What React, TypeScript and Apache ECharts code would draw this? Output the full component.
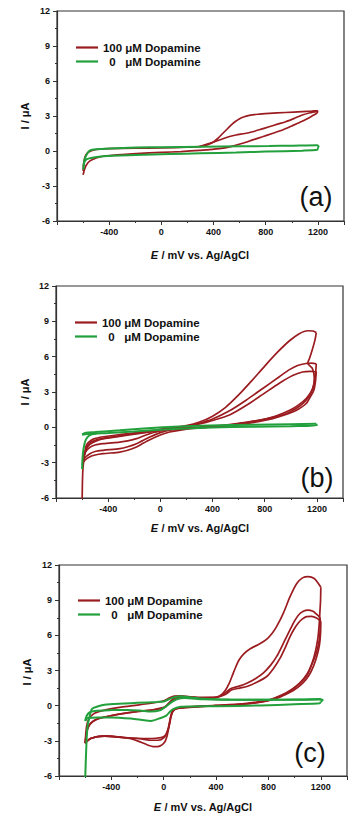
import React, { useEffect, useRef } from 'react';
import * as echarts from 'echarts';

const RED = '#9b1c20';
const GREEN = '#21a03c';
const NAME_RED = '100 μM Dopamine';
const NAME_GREEN = '0 μM Dopamine';
const PANEL_LABELS = ['(a)', '(b)', '(c)'];
const X_MIN = -800;
const X_MAX = 1400;
const X_STEP = 400;
const Y_MIN = -6;
const Y_MAX = 12;
const Y_STEP = 3;

// ---------- panel (a) ----------
const aRedFwd = [[-600,-2.05],[-590,-1.6],[-575,-1.2],[-547,-0.85],[-500,-0.6],[-445,-0.45],[-300,-0.3],[-191,-0.22],[0,-0.12],[150,-0.05],[292,0.05],[445,0.2],[540,0.4],[623,0.66],[700,0.95],[775,1.22],[850,1.5],[928,1.8],[1000,2.15],[1080,2.55],[1140,2.9],[1195,3.25]];
const aRedRev = [[1195,3.25],[1198,3.45],[1150,3.42],[1080,3.38],[950,3.3],[826,3.22],[740,3.15],[674,3.05],[630,2.92],[597,2.75],[570,2.55],[547,2.35],[510,1.95],[470,1.5],[430,1.05],[390,0.7],[340,0.48],[292,0.37],[200,0.33],[0,0.27],[-200,0.24],[-400,0.2],[-480,0.15],[-530,0.05],[-565,-0.15],[-585,-0.5],[-596,-1.1],[-600,-1.7]];
const aRedMid = [[292,0.37],[370,0.65],[445,0.94],[510,1.2],[572,1.37],[640,1.5],[699,1.65],[760,1.85],[826,2.08],[890,2.3],[953,2.51],[1020,2.8],[1080,3.08],[1140,3.28],[1195,3.4]];
const aGreenUp = [[-596,-1.3],[-588,-0.7],[-570,-0.25],[-547,0.05],[-500,0.15],[-400,0.22],[-191,0.3],[0,0.33],[318,0.37],[600,0.4],[826,0.43],[1000,0.46],[1195,0.5],[1205,0.4],[1200,0.25]];
const aGreenDn = [[1200,0.25],[1195,0.1],[1080,0.03],[800,-0.05],[572,-0.13],[300,-0.2],[64,-0.26],[-200,-0.35],[-445,-0.45],[-520,-0.55],[-572,-0.7],[-592,-1.0],[-598,-1.6],[-596,-1.3]];

// ---------- panel (b) ----------
const bRedStart = [[-600,-6.5],[-598,-5],[-594,-3.6],[-588,-2.9]];
const bRedFwd1 = [[-588,-2.9],[-582,-2.3],[-570,-1.6],[-553,-1.3],[-515,-1.0],[-438,-0.8],[-300,-0.6],[-183,-0.45],[-50,-0.25],[71,-0.05],[200,0.15],[300,0.45],[400,0.95],[500,1.7],[600,2.75],[700,3.95],[800,5.2],[900,6.4],[990,7.35],[1065,7.95],[1130,8.2],[1170,8.18],[1195,8.05]];
const bRedRev1 = [[1195,8.05],[1185,7.4],[1165,6.6],[1145,5.9],[1130,5.45],[1165,5.0],[1180,4.2],[1172,3.4],[1145,2.75],[1100,2.1],[1040,1.6],[963,1.16],[861,0.85],[760,0.62],[657,0.42],[500,0.2],[403,0.1],[300,0.02],[200,-0.05],[71,-0.11],[0,-0.3],[-81,-0.54],[-140,-0.78],[-183,-0.96],[-250,-1.15],[-311,-1.25],[-438,-1.39],[-500,-1.5],[-540,-1.7],[-575,-2.1],[-592,-2.7]];
const bRedFwd2 = [[-592,-2.7],[-575,-2.0],[-560,-1.6],[-530,-1.25],[-470,-1.0],[-400,-0.85],[-300,-0.7],[-183,-0.5],[-50,-0.3],[71,-0.1],[200,0.1],[300,0.35],[400,0.7],[530,1.4],[657,2.3],[785,3.3],[912,4.3],[990,4.9],[1052,5.25],[1116,5.42],[1160,5.45],[1195,5.4]];
const bRedRev2 = [[1195,5.4],[1190,4.6],[1178,3.7],[1155,3.0],[1116,2.43],[1065,1.95],[1014,1.58],[940,1.2],[861,0.88],[760,0.6],[657,0.4],[530,0.2],[403,0.08],[300,-0.02],[200,-0.1],[71,-0.25],[0,-0.45],[-81,-0.82],[-140,-1.15],[-183,-1.39],[-250,-1.65],[-311,-1.81],[-438,-1.95],[-500,-2.05],[-540,-2.24],[-580,-2.6],[-595,-3.0]];
const bRedFwd3 = [[-595,-3.0],[-580,-2.3],[-565,-1.8],[-540,-1.45],[-490,-1.15],[-420,-0.95],[-300,-0.75],[-183,-0.55],[-50,-0.35],[71,-0.15],[200,0.05],[300,0.28],[400,0.58],[530,1.05],[657,1.85],[785,2.8],[912,3.75],[1014,4.4],[1090,4.7],[1150,4.75],[1195,4.72]];
const bRedRev3 = [[1195,4.72],[1188,3.8],[1175,3.1],[1150,2.6],[1116,2.0],[1060,1.55],[1014,1.3],[940,1.0],[861,0.74],[760,0.5],[657,0.31],[530,0.15],[403,0.05],[300,-0.05],[200,-0.15],[71,-0.4],[0,-0.65],[-81,-1.05],[-140,-1.4],[-183,-1.67],[-250,-1.95],[-311,-2.1],[-438,-2.24],[-500,-2.35],[-540,-2.5],[-580,-2.8],[-600,-3.1]];
const bGreenSpike = [[-600,-3.55],[-597,-2.7],[-590,-1.9],[-578,-1.25],[-560,-0.85],[-530,-0.62],[-490,-0.52]];
const bGreenUp = [[-600,-0.6],[-570,-0.45],[-500,-0.4],[-311,-0.25],[-100,-0.08],[100,0.05],[377,0.15],[700,0.22],[1000,0.27],[1195,0.3]];
const bGreenDn = [[1195,0.3],[1200,0.15],[1000,0.1],[700,0.05],[400,-0.02],[200,-0.1],[0,-0.2],[-200,-0.35],[-400,-0.48],[-530,-0.55],[-600,-0.62]];

// ---------- panel (c) ----------
const cRedFwd1 = [[-600,-3.2],[-596,-2.5],[-590,-1.8],[-578,-1.3],[-560,-0.95],[-529,-0.65],[-453,-0.38],[-326,-0.12],[-200,0.05],[-73,0.25],[0,0.42],[40,0.65],[80,0.82],[130,0.83],[200,0.76],[300,0.7],[380,0.7],[430,0.85],[470,1.3],[500,1.9],[525,2.6],[550,3.3],[575,3.9],[610,4.4],[661,4.85],[737,5.3],[790,5.7],[830,6.2],[863,6.76],[914,7.9],[965,9.3],[1015,10.4],[1060,10.9],[1104,11.0],[1150,10.85],[1180,10.45],[1200,10.1]];
const cRedRev1 = [[1200,10.1],[1198,9.0],[1193,8.0],[1188,7.0],[1178,5.8],[1160,4.7],[1135,3.7],[1095,2.7],[1040,1.95],[960,1.2],[880,0.75],[800,0.45],[700,0.25],[560,0.1],[400,0.0],[250,-0.1],[130,-0.2],[80,-0.35],[55,-0.9],[40,-1.8],[25,-2.6],[5,-3.15],[-30,-3.45],[-73,-3.5],[-124,-3.35],[-200,-3.0],[-260,-2.8],[-326,-2.69],[-400,-2.6],[-453,-2.58],[-510,-2.65],[-554,-2.78],[-585,-3.0],[-600,-3.2]];
const cRedFwd2 = [[-600,-3.2],[-590,-2.4],[-575,-1.8],[-550,-1.4],[-500,-1.1],[-400,-0.85],[-300,-0.65],[-200,-0.5],[-100,-0.38],[0,-0.2],[40,0.2],[70,0.55],[110,0.72],[200,0.7],[300,0.65],[400,0.7],[460,1.0],[510,1.45],[570,1.65],[635,1.92],[700,2.3],[762,2.8],[820,3.5],[863,4.2],[900,5.0],[939,5.9],[975,6.7],[1003,7.3],[1035,7.8],[1066,8.05],[1100,8.15],[1140,8.05],[1167,7.8],[1195,7.5]];
const cRedRev2 = [[1195,7.5],[1195,6.5],[1185,5.4],[1165,4.5],[1135,3.6],[1100,2.7],[1050,2.0],[980,1.4],[900,0.9],[820,0.55],[737,0.35],[600,0.15],[400,0.02],[200,-0.1],[100,-0.22],[65,-0.5],[48,-1.2],[35,-1.9],[20,-2.4],[0,-2.75],[-40,-2.95],[-100,-2.95],[-160,-2.85],[-230,-2.78],[-326,-2.7],[-453,-2.6],[-554,-2.78],[-600,-3.2]];
const cRedFwd3 = [[-600,-3.2],[-588,-2.2],[-570,-1.7],[-540,-1.35],[-480,-1.05],[-380,-0.8],[-280,-0.62],[-180,-0.48],[-80,-0.35],[10,-0.1],[50,0.35],[90,0.65],[150,0.7],[250,0.66],[400,0.7],[470,0.95],[520,1.35],[580,1.5],[635,1.63],[711,2.0],[787,2.49],[840,3.2],[889,4.05],[930,5.0],[965,5.9],[1000,6.6],[1028,7.05],[1060,7.4],[1091,7.6],[1130,7.62],[1167,7.48],[1200,7.2]];
const cRedRev3 = [[1200,7.2],[1198,6.2],[1190,5.2],[1172,4.3],[1145,3.4],[1110,2.6],[1060,1.9],[990,1.3],[910,0.85],[830,0.5],[740,0.3],[600,0.12],[400,0.0],[200,-0.12],[100,-0.25],[70,-0.45],[55,-1.0],[42,-1.7],[28,-2.2],[10,-2.55],[-20,-2.72],[-60,-2.78],[-120,-2.8],[-200,-2.78],[-300,-2.72],[-453,-2.6],[-554,-2.78],[-600,-3.2]];
const cGreenSpike = [[-600,-6.3],[-595,-4.6],[-588,-2.7],[-580,-1.6],[-568,-1.05]];
const cGreenUp = [[-568,-1.05],[-560,-0.6],[-545,-0.25],[-500,-0.05],[-453,0.08],[-300,0.18],[-200,0.24],[-50,0.32],[0,0.36],[40,0.55],[80,0.72],[130,0.8],[200,0.72],[300,0.6],[500,0.52],[800,0.5],[1000,0.52],[1192,0.56],[1215,0.48],[1200,0.35]];
const cGreenDn = [[1200,0.35],[1192,0.2],[1000,0.12],[737,0.02],[400,-0.05],[200,-0.07],[129,-0.1],[80,-0.25],[53,-0.45],[20,-0.85],[-23,-1.05],[-99,-1.3],[-149,-1.25],[-250,-1.1],[-403,-1.0],[-500,-1.0],[-580,-1.05],[-600,-1.3]];
const cGreenLoop2 = [[-600,-1.3],[-590,-0.9],[-570,-0.6],[-529,-0.45],[-400,-0.38],[-276,-0.36],[-180,-0.42],[-99,-0.5],[-30,-0.4],[20,-0.05],[60,0.3],[100,0.55],[160,0.65],[300,0.55],[600,0.5],[1000,0.5],[1200,0.52]];

const PANEL_RED = [
  [aRedFwd, aRedRev, aRedMid],
  [bRedStart, bRedFwd1, bRedRev1, bRedFwd2, bRedRev2, bRedFwd3, bRedRev3],
  [cRedFwd1, cRedRev1, cRedFwd2, cRedRev2, cRedFwd3, cRedRev3],
];
const PANEL_GREEN = [
  [aGreenUp, aGreenDn],
  [bGreenSpike, bGreenUp, bGreenDn],
  [cGreenSpike, cGreenUp, cGreenDn, cGreenLoop2],
];

const FONT = "'Liberation Sans', Arial, sans-serif";

const GRIDS = [
  { left: 57, top: 11, width: 287, height: 210 },
  { left: 56, top: 286, width: 287, height: 212 },
  { left: 59, top: 565, width: 288, height: 211 },
];
const LEGEND_POS = [
  { left: 71, top: 36 },
  { left: 70, top: 311 },
  { left: 73, top: 589 },
];
const Y_NAME_POS = [[25, 116], [25, 392], [27, 672]];
const X_NAME_POS = [[200, 255], [200, 528], [203, 807]];
const PANEL_LABEL_POS = [[316, 197], [317, 478], [310, 753]];

export default function App() {
  const ref = useRef<HTMLDivElement>(null);
  useEffect(() => {
    if (!ref.current) return;
    const chart = echarts.init(ref.current, undefined, { renderer: 'svg' });
    const series: any[] = [];
    for (let p = 0; p < 3; p++) {
      PANEL_RED[p].forEach((d) => {
        series.push({
          type: 'line', name: NAME_RED, data: d, xAxisIndex: p, yAxisIndex: p,
          showSymbol: false, symbol: 'none', smooth: 0.25, clip: true, silent: true,
          lineStyle: { color: RED, width: 1.7 }, itemStyle: { color: RED }, z: 2,
        });
      });
      PANEL_GREEN[p].forEach((d) => {
        series.push({
          type: 'line', name: NAME_GREEN, data: d, xAxisIndex: p, yAxisIndex: p,
          showSymbol: false, symbol: 'none', smooth: 0.25, clip: true, silent: true,
          lineStyle: { color: GREEN, width: 2 }, itemStyle: { color: GREEN }, z: 3,
        });
      });
    }
    const axisLine = { show: true, onZero: false, lineStyle: { color: '#333', width: 1.2 } };
    const richLegend = {
      n: { width: 19, align: 'right', fontSize: 11.5, fontWeight: 'bold', fontFamily: FONT, color: '#111' },
      t: { fontSize: 11.5, fontWeight: 'bold', fontFamily: FONT, color: '#111' },
    };
    const option: any = {
      animation: false,
      backgroundColor: '#fff',
      grid: GRIDS.map((g) => ({ ...g, show: true, borderColor: '#333', borderWidth: 1.2, backgroundColor: 'transparent' })),
      xAxis: GRIDS.map((_, i) => ({
        type: 'value', gridIndex: i, min: X_MIN, max: X_MAX, interval: X_STEP,
        axisLine, splitLine: { show: false },
        axisTick: { show: true, inside: false, length: 4, lineStyle: { color: '#333' } },
        minorTick: { show: true, splitNumber: 2, length: 2, lineStyle: { color: '#333' } },
        axisLabel: {
          margin: 6, fontSize: 9, fontWeight: 'bold', fontFamily: FONT, color: '#111',
          formatter: (v: number) => (v === X_MIN || v === X_MAX ? '' : String(v)),
        },
      })),
      yAxis: GRIDS.map((_, i) => ({
        type: 'value', gridIndex: i, min: Y_MIN, max: Y_MAX, interval: Y_STEP,
        axisLine, splitLine: { show: false },
        axisTick: { show: true, inside: false, length: 4, lineStyle: { color: '#333' } },
        minorTick: { show: true, splitNumber: 2, length: 2, lineStyle: { color: '#333' } },
        axisLabel: { margin: 7, fontSize: 9, fontWeight: 'bold', fontFamily: FONT, color: '#111' },
      })),
      legend: LEGEND_POS.map((lp) => ({
        ...lp, orient: 'vertical', icon: 'rect', itemWidth: 22, itemHeight: 2.2, itemGap: 1,
        selectedMode: false, data: [NAME_RED, NAME_GREEN],
        formatter: (name: string) => {
          const i = name.indexOf(' ');
          return `{n|${name.slice(0, i)}}{t| ${name.slice(i + 1)}}`;
        },
        textStyle: { fontSize: 11.5, fontWeight: 'bold', fontFamily: FONT, color: '#111', lineHeight: 13, rich: richLegend },
      })),
      graphic: [
        ...Y_NAME_POS.map(([x, y]) => ({
          type: 'text', x, y, rotation: Math.PI / 2, silent: true,
          style: { text: 'I / μA', fill: '#111', font: `bold 11px ${FONT}`, textAlign: 'center', textVerticalAlign: 'middle' },
        })),
        ...X_NAME_POS.map(([x, y]) => ({
          type: 'text', x, y, silent: true,
          style: {
            text: '{i|E} / mV vs. Ag/AgCl', fill: '#111', font: `bold 11px ${FONT}`, textAlign: 'center', textVerticalAlign: 'middle',
            rich: { i: { fontStyle: 'italic', fontWeight: 'bold', fontSize: 11, fontFamily: FONT, fill: '#111' } },
          },
        })),
        ...PANEL_LABEL_POS.map(([x, y], i) => ({
          type: 'text', x, y, silent: true,
          style: { text: PANEL_LABELS[i], fill: '#111', font: `27px ${FONT}`, textAlign: 'center', textVerticalAlign: 'middle' },
        })),
      ],
      series,
    };
    chart.setOption(option);
    return () => chart.dispose();
  }, []);
  return (
    <div
      ref={ref}
      style={{ position: 'absolute', left: 0, top: 0, width: 355, height: 820, background: '#fff' }}
    />
  );
}
